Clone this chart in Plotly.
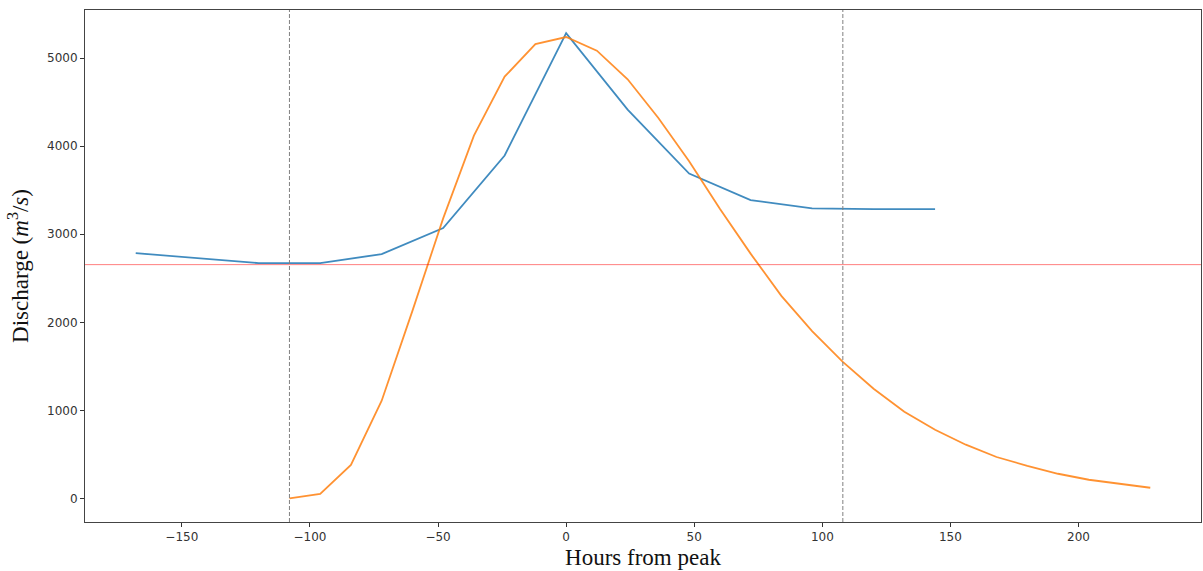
import plotly.graph_objects as go

# Observed discharge (blue), every 24 h
obs_hours = [-168, -144, -120, -96, -72, -48, -24, 0, 24, 48, 72, 96, 120, 144]
obs_q = [2785, 2725, 2672, 2672, 2775, 3070, 3895, 5285, 4415, 3690, 3388, 3295, 3285, 3285]

# Modelled hydrograph (orange), every 12 h
mod_hours = [-108, -96, -84, -72, -60, -48, -36, -24, -12, 0, 12, 24, 36, 48, 60, 72, 84,
             96, 108, 120, 132, 144, 156, 168, 180, 192, 204, 216, 228]
mod_q = [0, 50, 380, 1110, 2130, 3180, 4120, 4790, 5160, 5240, 5085, 4760, 4320, 3830,
         3290, 2780, 2300, 1900, 1550, 1245, 985, 780, 610, 470, 370, 280, 212, 163, 121]

threshold = 2655
window_bounds = [-108, 108]

x_ticks = [-150, -100, -50, 0, 50, 100, 150, 200]
y_ticks = [0, 1000, 2000, 3000, 4000, 5000]

fig = go.Figure()
fig.add_trace(go.Scatter(x=obs_hours, y=obs_q, mode="lines",
                         line=dict(color="rgba(31,119,180,0.85)", width=1.8), showlegend=False))
fig.add_trace(go.Scatter(x=mod_hours, y=mod_q, mode="lines",
                         line=dict(color="rgba(255,127,14,0.85)", width=1.8), showlegend=False))

fig.add_hline(y=threshold, line=dict(color="rgba(255,0,0,0.5)", width=1))
for xb in window_bounds:
    fig.add_vline(x=xb, line=dict(color="gray", width=1, dash="4px,2px"))

axis_common = dict(showgrid=False, zeroline=False, showline=True, mirror=True,
                   linecolor="#444", linewidth=1, ticks="outside", ticklen=4,
                   tickcolor="#333", automargin=False,
                   tickfont=dict(family="DejaVu Sans", size=12, color="#333"))

fig.update_xaxes(range=[-187.8, 247.8], tickvals=x_ticks,
                 title=dict(text="Hours from peak", standoff=5,
                            font=dict(family="Liberation Serif", size=23, color="#111")),
                 **axis_common)
fig.update_yaxes(range=[-268, 5547], tickvals=y_ticks,
                 title=dict(text="Discharge (<i>m</i><sup>3</sup>/<i>s</i>)", standoff=12,
                            font=dict(family="Liberation Serif", size=23, color="#111")),
                 **axis_common)

fig.update_layout(width=1203, height=571, margin=dict(l=85, r=2, t=10, b=49, autoexpand=False),
                  plot_bgcolor="white", paper_bgcolor="white")

post = ("document.body.style.margin='0';document.body.style.overflow='hidden';"
        "var gd=document.getElementById('{plot_id}');"
        "Plotly.relayout(gd,{width:1203,height:571});")
fig.write_html("out.html", post_script=post,
               config={"responsive": False, "displayModeBar": False})
